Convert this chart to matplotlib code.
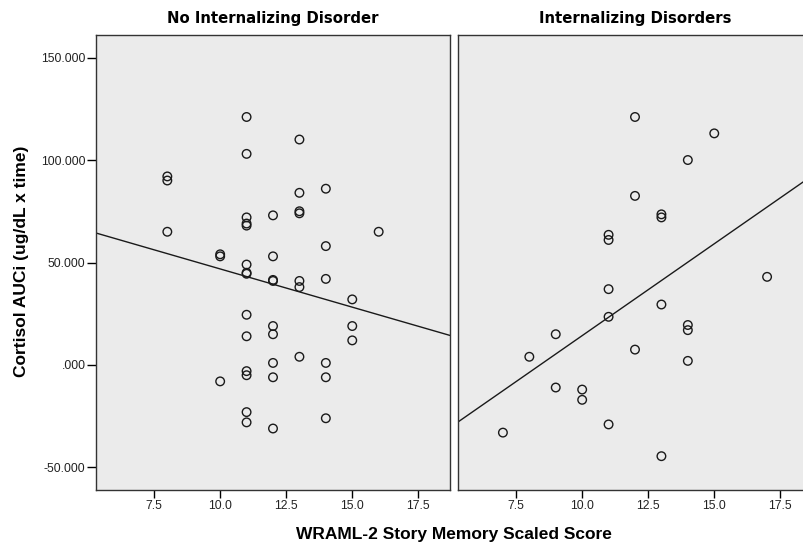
import matplotlib
matplotlib.use("Agg")
import matplotlib.pyplot as plt
import numpy as np

# WRAML-2 story memory scaled score vs. cortisol AUCi, split by diagnosis group
no_disorder_x = [11, 13, 11, 8, 8, 13, 14, 12, 13, 13, 11, 11, 11, 8, 16, 14,
                 10, 10, 12, 11, 11, 11, 12, 12, 13, 13, 14, 15,
                 11, 12, 12, 15, 15, 11, 13, 12, 14, 11, 11, 12, 14, 10,
                 11, 11, 14, 12]
no_disorder_y = [121, 110, 103, 92, 90, 84, 86, 73, 75, 74, 72, 69, 68, 65, 65, 58,
                 54, 53, 53, 49, 45, 44.5, 41.5, 41, 41, 38, 42, 32,
                 24.5, 19, 15, 19, 12, 14, 4, 1, 1, -3, -5, -6, -6, -8,
                 -23, -28, -26, -31]

disorder_x = [12, 15, 14, 12, 13, 13, 11, 11, 11, 17, 13, 11, 9, 14, 14,
              8, 12, 14, 9, 10, 10, 11, 7, 13]
disorder_y = [121, 113, 100, 82.5, 73.5, 72, 63.5, 61, 37, 43, 29.5, 23.5, 15,
              19.5, 17, 4, 7.5, 2, -11, -12, -17, -29, -33, -44.5]

panel_titles = ["No Internalizing Disorder", "Internalizing Disorders"]
x_ticks = [7.5, 10.0, 12.5, 15.0, 17.5]
y_ticks = [-50, 0, 50, 100, 150]
y_tick_labels = ["-50.000", ".000", "50.000", "100.000", "150.000"]

XLIM = (5.3, 18.7)
YLIM = (-61, 161)
W, H = 804, 548
BG = "#EBEBEB"

fig = plt.figure(figsize=(W / 100, H / 100), dpi=100)


def px_axes(left, top, right, bottom):
    return fig.add_axes([left / W, 1 - bottom / H, (right - left) / W, (bottom - top) / H])


axes = [px_axes(96, 35, 450, 490), px_axes(458, 35, 812, 490)]
groups = [(no_disorder_x, no_disorder_y), (disorder_x, disorder_y)]

for i, (ax, (xs, ys), title) in enumerate(zip(axes, groups, panel_titles)):
    xs = np.asarray(xs, float)
    ys = np.asarray(ys, float)
    ax.set_facecolor(BG)
    ax.scatter(xs, ys, s=38, facecolors="none", edgecolors="#1a1a1a",
               linewidths=1.0, zorder=3)
    # least-squares fit line across the full x range
    slope, icpt = np.polyfit(xs, ys, 1)
    xl = np.array(XLIM)
    ax.plot(xl, slope * xl + icpt, color="#1a1a1a", lw=1.0, zorder=2)
    ax.set_xlim(*XLIM)
    ax.set_ylim(*YLIM)
    ax.set_xticks(x_ticks)
    ax.set_xticklabels([f"{t:.1f}" for t in x_ticks], fontsize=8.8,
                       family="Liberation Sans", color="#222222")
    ax.tick_params(axis="x", direction="out", length=6, width=1, pad=1.5)
    if i == 0:
        ax.set_yticks(y_ticks)
        ax.set_yticklabels(y_tick_labels, fontsize=8.8,
                           family="Liberation Sans", color="#222222")
        ax.tick_params(axis="y", direction="out", length=6.5, width=1, pad=1)
    else:
        ax.set_yticks([])
    for sp in ax.spines.values():
        sp.set_color("#333333")
        sp.set_linewidth(1.0)
    ax.set_title(title, fontsize=10.7, fontweight="bold", family="DejaVu Sans",
                 pad=9)

fig.text(454 / W, 1 - 535 / H, "WRAML-2 Story Memory Scaled Score",
         ha="center", va="center", fontsize=12.5, fontweight="bold",
         family="Liberation Sans")
fig.text(22 / W, 1 - 261 / H, "Cortisol AUCi (ug/dL x time)",
         ha="center", va="center", rotation=90, fontsize=12.5,
         fontweight="bold", family="Liberation Sans")

fig.savefig("out.png", dpi=100, facecolor="white")
